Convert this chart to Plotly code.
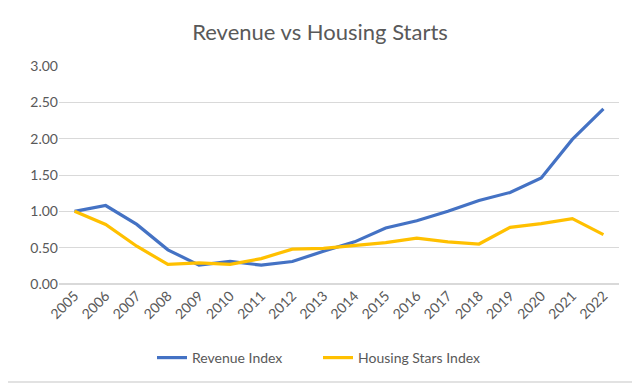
import plotly.graph_objects as go

years = [str(y) for y in range(2005, 2023)]
revenue_index = [1.00, 1.08, 0.82, 0.47, 0.26, 0.31, 0.26, 0.31, 0.45, 0.58, 0.77, 0.87, 1.00, 1.15, 1.26, 1.46, 1.99, 2.41]
housing_index = [1.00, 0.82, 0.52, 0.27, 0.29, 0.27, 0.35, 0.48, 0.49, 0.53, 0.57, 0.63, 0.58, 0.55, 0.78, 0.83, 0.90, 0.68]
y_ticks = [0, 0.5, 1.0, 1.5, 2.0, 2.5, 3.0]

font_family = "Lato, Open Sans, sans-serif"
grey = "#595959"

fig = go.Figure()
fig.add_trace(go.Scatter(x=years, y=revenue_index, mode="lines", name="Revenue Index",
                         line=dict(color="#4472C4", width=3.2)))
fig.add_trace(go.Scatter(x=years, y=housing_index, mode="lines", name="Housing Stars Index",
                         line=dict(color="#FFC000", width=3.2)))

# page body has an 8px margin, so figure coords = screen coords - 8
OFF = 8
W, H = 640, 385
L, T = 59 - OFF, 66 - OFF
R = W - (619 - OFF)
B = H - (284 - OFF)
pw, ph = W - L - R, H - T - B

fig.update_layout(
    width=W, height=H,
    margin=dict(l=L, r=R, t=T, b=B, autoexpand=False),
    paper_bgcolor="white", plot_bgcolor="white",
    font=dict(family=font_family, color=grey, size=12),
    title=dict(text="Revenue vs Housing Starts", x=(320 - OFF) / W, xanchor="center",
               y=1 - (32 - OFF) / H, yanchor="middle",
               font=dict(size=22, color=grey, family=font_family)),
    xaxis=dict(type="category", range=[-0.5, 17.5], tickangle=-45, showgrid=False,
               automargin=False, showline=False, ticks="", ticklen=2,
               tickfont=dict(size=14, color=grey)),
    yaxis=dict(range=[0, 3.0], tickvals=y_ticks, tickformat=".2f", showgrid=True,
               automargin=False, gridcolor="#D9D9D9", gridwidth=1, zeroline=True,
               zerolinecolor="#D9D9D9", showline=False, ticks="",
               tickfont=dict(size=14, color=grey)),
    showlegend=True,
    legend=dict(orientation="h", x=(152 - OFF - L) / pw, xanchor="left",
                y=(284 - 358) / ph, yanchor="middle", entrywidth=121, entrywidthmode="pixels",
                font=dict(size=14, color=grey), itemwidth=30, tracegroupgap=0),
    shapes=[
        dict(type="line", xref="paper", yref="paper",
             x0=-L / pw, x1=(637 - OFF - L) / pw,
             y0=(284 - 382) / ph, y1=(284 - 382) / ph,
             line=dict(color="#D9D9D9", width=1.5), layer="above"),
    ],
)

fig.write_html("out.html")
